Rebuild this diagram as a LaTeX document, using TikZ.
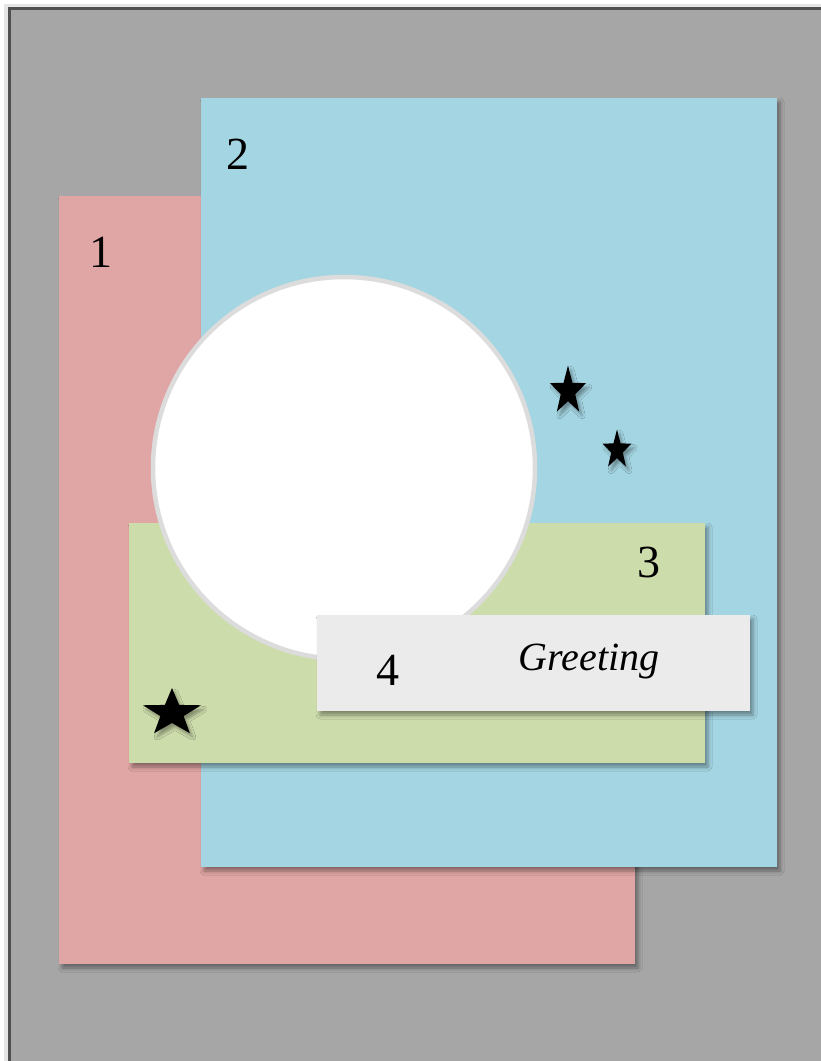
\documentclass[tikz,border=0pt]{standalone}
\usepackage{fontspec}
\setmainfont{Liberation Serif}
\usetikzlibrary{shadows,shadows.blur}
\definecolor{bggray}{HTML}{A6A6A6}
\definecolor{framegray}{HTML}{505050}
\definecolor{pinkc}{HTML}{E0A5A5}
\definecolor{bluec}{HTML}{A4D5E2}
\definecolor{greenc}{HTML}{CDDCAB}
\definecolor{boxc}{HTML}{EBEBEB}
\definecolor{ringc}{HTML}{DCDCDC}
\tikzset{
  paper/.style={blur shadow={shadow xshift=3pt, shadow yshift=-4pt, shadow blur radius=4pt, shadow opacity=40}},
  starshadow/.style={blur shadow={shadow xshift=3pt, shadow yshift=-4pt, shadow blur radius=3pt, shadow opacity=35}},
  numlabel/.style={font=\fontsize{46}{50}\selectfont, inner sep=0pt},
}
\newcommand{\mystar}[4]{% cx, cy, rx, ry
  \fill[black, starshadow] ({#1+#3*cos(90)},{#2-#4*sin(90)})
    \foreach \k in {1,...,9} {
      -- ({#1+(mod(\k,2)==0 ? 1 : 0.40)*#3*cos(90+36*\k)},{#2-(mod(\k,2)==0 ? 1 : 0.40)*#4*sin(90+36*\k)})
    } -- cycle;
}
\begin{document}
\begin{tikzpicture}[x=1pt,y=-1pt]
\useasboundingbox (0,0) rectangle (820,1061);
\fill[white] (0,0) rectangle (820,1061);
% background sheet
\fill[black!10] (4,4) rectangle (830,1070);
\fill[bggray] (8,7) rectangle (830,1070);
\draw[framegray, line width=3pt] (9.5,1070) -- (9.5,8.5) -- (830,8.5);
% panels
\fill[pinkc, paper] (59,196) rectangle (635,964);
\fill[bluec, paper] (201,98) rectangle (777,867);
\fill[greenc, paper] (129,523) rectangle (705,763);
% circle
\filldraw[fill=white, draw=ringc, line width=4.5pt] (344,468) circle[radius=191];
% greeting box
\fill[boxc, paper] (317,615) rectangle (750,711);
% stars
\mystar{568}{391}{19}{25.5}
\mystar{617}{450}{15.2}{20.5}
\mystar{172}{713}{30.5}{25}
% labels
\node[numlabel] (l1) at (100.5,252) {1};
\node[numlabel] (l2) at (238,154) {2};
\node[numlabel] (l3) at (649,562) {3};
\node[numlabel] (l4) at (388,670) {4};
\node[inner sep=0pt, font=\fontsize{40}{44}\selectfont\itshape] (greet) at (589,662) {Greeting};
\end{tikzpicture}
\end{document}
